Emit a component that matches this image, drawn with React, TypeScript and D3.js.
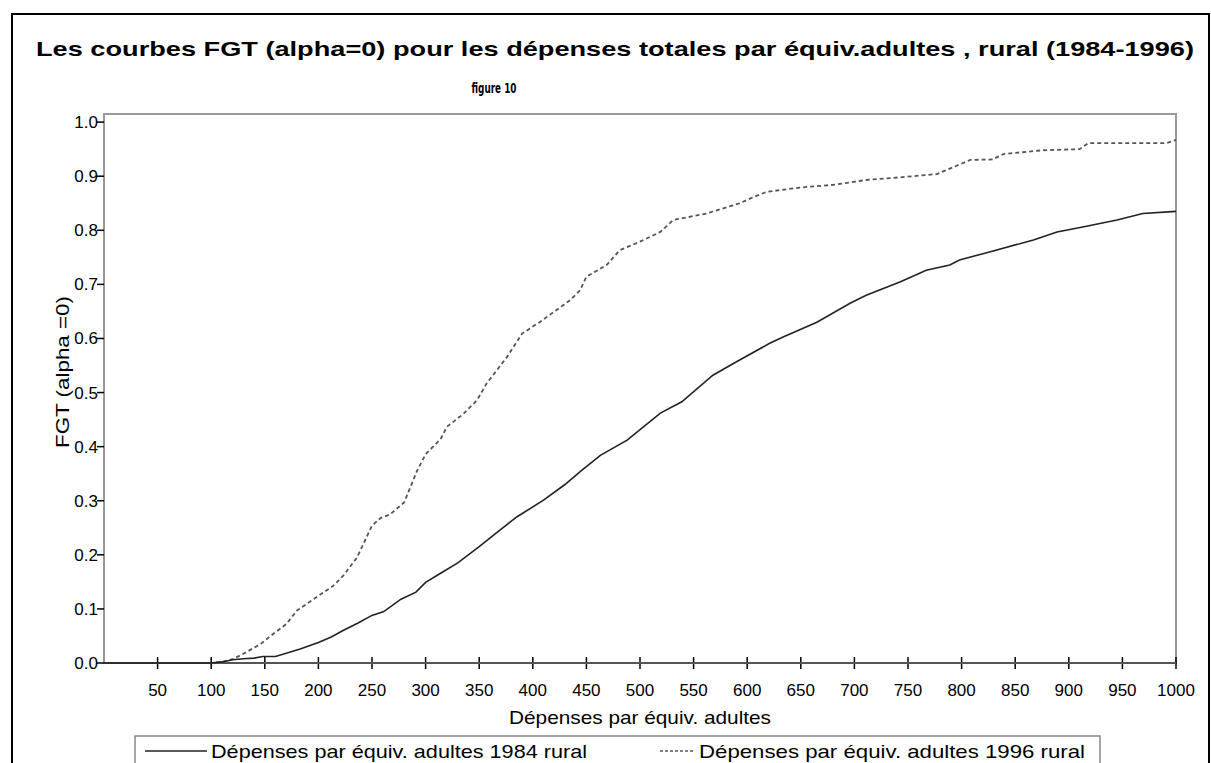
import React from "react";
import * as d3 from "d3";

const xTicks = [50, 100, 150, 200, 250, 300, 350, 400, 450, 500, 550, 600, 650, 700, 750, 800, 850, 900, 950, 1000];
const yTicks = [0, 0.1, 0.2, 0.3, 0.4, 0.5, 0.6, 0.7, 0.8, 0.9, 1.0];

const x1984 = [0, 100, 110, 120, 130, 140, 148, 160, 170, 183, 200, 212, 223, 237, 250, 261, 277, 291, 300, 314, 330, 350, 369, 385, 410, 430, 445, 463, 488, 519, 539, 568, 590, 621, 634, 665, 696, 711, 743, 767, 789, 798, 826, 867, 889, 913, 945, 969, 1000];
const y1984 = [0, 0, 0.002, 0.006, 0.008, 0.009, 0.012, 0.012, 0.018, 0.026, 0.038, 0.048, 0.06, 0.074, 0.088, 0.095, 0.118, 0.131, 0.149, 0.166, 0.185, 0.215, 0.245, 0.27, 0.301, 0.33, 0.355, 0.384, 0.412, 0.462, 0.483, 0.532, 0.557, 0.591, 0.603, 0.63, 0.665, 0.68, 0.705, 0.726, 0.736, 0.745, 0.76, 0.782, 0.797, 0.806, 0.819, 0.831, 0.835];

const x1996 = [0, 100, 110, 120, 130, 146, 158, 170, 180, 200, 214, 223, 236, 250, 258, 267, 280, 292, 300, 314, 320, 335, 348, 357, 376, 390, 407, 435, 444, 450, 469, 481, 500, 519, 531, 562, 593, 603, 618, 649, 680, 711, 743, 777, 789, 808, 829, 839, 876, 910, 918, 991, 1000];
const y1996 = [0, 0, 0.002, 0.007, 0.017, 0.035, 0.054, 0.072, 0.097, 0.124, 0.143, 0.161, 0.195, 0.254, 0.268, 0.275, 0.297, 0.355, 0.386, 0.414, 0.437, 0.46, 0.486, 0.517, 0.566, 0.609, 0.631, 0.671, 0.689, 0.714, 0.736, 0.763, 0.779, 0.797, 0.819, 0.831, 0.85, 0.859, 0.871, 0.879, 0.884, 0.893, 0.898, 0.904, 0.914, 0.93, 0.931, 0.941, 0.948, 0.95, 0.961, 0.961, 0.967];

const titleText = "Les courbes FGT (alpha=0) pour les dépenses totales par équiv.adultes , rural (1984-1996)";
const subtitleText = "figure 10";
const xTitle = "Dépenses par équiv. adultes";
const yTitle = "FGT (alpha =0)";
const legend1 = "Dépenses par équiv. adultes 1984 rural";
const legend2 = "Dépenses par équiv. adultes 1996 rural";

export default function App() {
  const W = 1211, H = 763;
  const L = 104, R = 1176, T = 114, B = 663;
  const x = d3.scaleLinear().domain([0, 1000]).range([L, R]);
  const y = d3.scaleLinear().domain([0, 1.015]).range([B, T]);
  const line = d3.line<[number, number]>().x(d => x(d[0])).y(d => y(d[1]));
  const s1 = x1984.map((v, i) => [v, y1984[i]] as [number, number]);
  const s2 = x1996.map((v, i) => [v, y1996[i]] as [number, number]);
  const font = "'Liberation Sans', Arial, sans-serif";

  return (
    <svg width={W} height={H} style={{ position: "absolute", left: 0, top: 0, background: "#fff" }} fontFamily={font}>
      <rect x={0} y={0} width={W} height={H} fill="#fff" />
      <rect x={12} y={14} width={1197} height={800} fill="none" stroke="#000" strokeWidth={2} />
      <text x={615} y={56} textAnchor="middle" fontSize={21} fontWeight="bold" textLength={1158} lengthAdjust="spacingAndGlyphs">{titleText}</text>
      <text x={494} y={93} textAnchor="middle" fontSize={14} fontWeight={600} fontFamily="'Liberation Sans Narrow', 'DejaVu Sans Condensed', sans-serif" textLength={45} lengthAdjust="spacingAndGlyphs">{subtitleText}</text>

      <rect x={L} y={T} width={R - L} height={B - T} fill="none" stroke="#999" strokeWidth={2} />

      {yTicks.map(t => (
        <g key={"y" + t}>
          <line x1={L - 7} x2={L} y1={y(t)} y2={y(t)} stroke="#000" strokeWidth={1.5} />
          <text x={L - 6} y={y(t)} dy="0.35em" textAnchor="end" fontSize={17}>{t.toFixed(1)}</text>
        </g>
      ))}
      {xTicks.map(t => (
        <g key={"x" + t}>
          <line x1={x(t)} x2={x(t)} y1={B - 6} y2={B + 6} stroke="#000" strokeWidth={1.5} />
          <text x={x(t)} y={690} dy="0.35em" textAnchor="middle" fontSize={17}>{t}</text>
        </g>
      ))}
      <line x1={L} x2={R} y1={B} y2={B} stroke="#555" strokeWidth={2} />

      <path d={line(s2) || ""} fill="none" stroke="#555" strokeWidth={1.8} strokeDasharray="4,3" />
      <path d={line(s1) || ""} fill="none" stroke="#222" strokeWidth={1.6} />

      <text x={640} y={717} dy="0.35em" textAnchor="middle" fontSize={19} textLength={262} lengthAdjust="spacingAndGlyphs">{xTitle}</text>
      <text transform="translate(62,372) rotate(-90)" textAnchor="middle" dy="0.35em" fontSize={19} textLength={152} lengthAdjust="spacingAndGlyphs">{yTitle}</text>

      <rect x={135} y={736} width={965} height={60} fill="none" stroke="#888" strokeWidth={1.5} />
      <line x1={145} x2={207} y1={751} y2={751} stroke="#222" strokeWidth={1.6} />
      <text x={211} y={751} dy="0.35em" fontSize={19} textLength={376} lengthAdjust="spacingAndGlyphs">{legend1}</text>
      <line x1={660} x2={695} y1={751} y2={751} stroke="#555" strokeWidth={1.6} strokeDasharray="3,2" />
      <text x={699} y={751} dy="0.35em" fontSize={19} textLength={386} lengthAdjust="spacingAndGlyphs">{legend2}</text>
    </svg>
  );
}
